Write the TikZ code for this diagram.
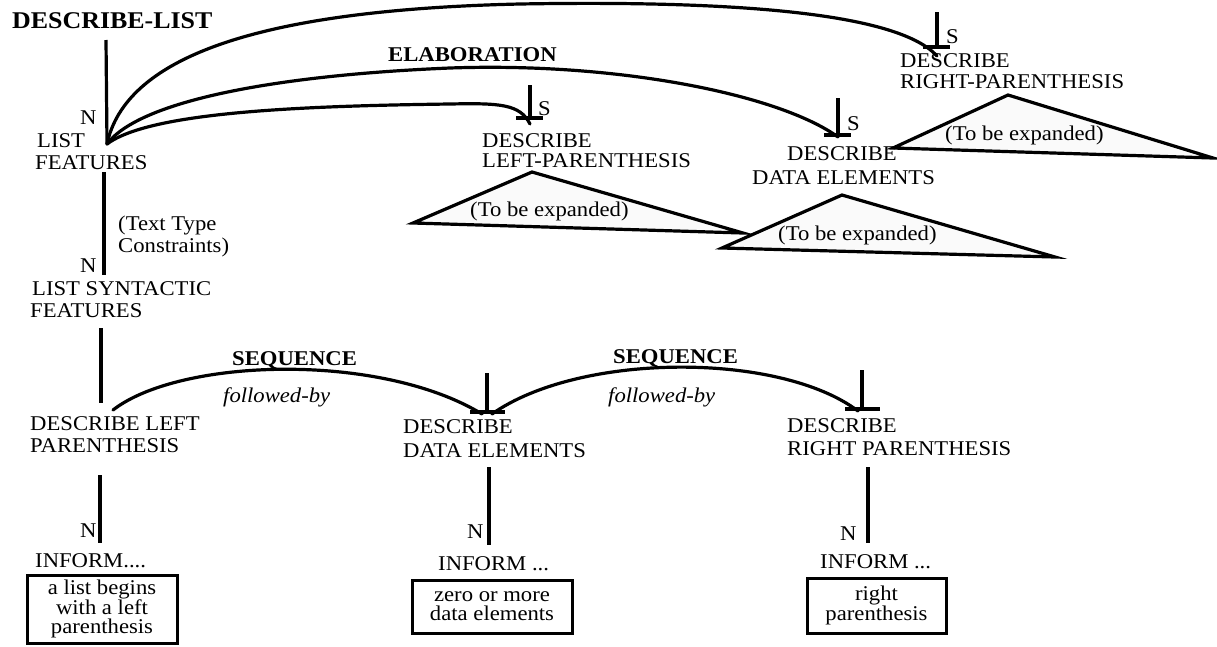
\documentclass[tikz,border=0pt]{standalone}
\usepackage{fontspec}
\setmainfont{Liberation Serif}[FakeStretch=1.08]
\begin{document}
\begin{tikzpicture}[x=1pt,y=-1pt,
  lbl/.style={inner sep=0pt, anchor=base west, font=\fontsize{21}{24}\selectfont},
  boldlbl/.style={lbl, font=\fontsize{21}{24}\selectfont\bfseries},
  itlbl/.style={lbl, font=\fontsize{21}{24}\selectfont\itshape},
  rel/.style={line width=3.2pt},
  link/.style={line width=3.2pt, line cap=round},
  tri/.style={line width=3.2pt, line join=miter, fill=black!2},
  infobox/.style={draw, line width=3pt, align=center, inner sep=0pt,
    font=\fontsize{21}{19}\selectfont}]
\useasboundingbox (0,0) rectangle (1217,646);

% ---------- root and the nucleus LIST FEATURES ----------
\node[boldlbl, font=\fontsize{24}{26}\selectfont\bfseries] (title) at (12,28) {DESCRIBE-LIST};
\coordinate (rootfoot) at (106,40);
\coordinate (jn) at (107,144);
\draw[rel] (rootfoot) -- (jn);
\node[lbl] (nA) at (80,124) {N};
\node[lbl] (lf) at (37,147) {LIST};
\node[lbl] (lfB) at (35,169) {FEATURES};

% ---------- satellite marks (vertical stem, bar, S) ----------
\coordinate (sLtop) at (530,85);  \coordinate (sL) at (530,118);
\coordinate (sDtop) at (838,98);  \coordinate (sD) at (838,135);
\coordinate (sRtop) at (937,12);  \coordinate (sR) at (937,47);
\foreach \m in {sL,sD,sR}{
  \draw[rel] (\m top) -- (\m);
  \draw[rel] ([xshift=-14pt]\m) -- ([xshift=13pt]\m);
}
\node[lbl] (sLlab) at (538,115) {S};
\node[lbl] (sDlab) at (847,130) {S};
\node[lbl] (sRlab) at (946,43) {S};

% elaboration arcs out of LIST FEATURES
\draw[link] (jn) .. controls (125,60) and (250,10) .. (520,4)
                 .. controls (750,0) and (900,15) .. ([yshift=-9pt]sR);
\draw[link] (jn) .. controls (140,100) and (280,75) .. (450,68)
                 .. controls (620,62) and (780,95) .. ([yshift=-2pt]sD);
\draw[link] (jn) .. controls (150,112) and (300,106) .. (450,104)
                 .. controls (500,103) and (520,104) .. ([yshift=-6pt]sL);
\node[boldlbl] (elab) at (388,61) {ELABORATION};

% satellites with their unexpanded subtrees
\node[lbl] (dlp) at (482,147) {DESCRIBE};
\node[lbl] (dlpB) at (482,167) {LEFT-PARENTHESIS};
\node[lbl] (dde) at (787,160) {DESCRIBE};
\node[lbl] (ddeB) at (752,184) {DATA ELEMENTS};
\node[lbl] (drp) at (900,67) {DESCRIBE};
\node[lbl] (drpB) at (900,88) {RIGHT-PARENTHESIS};

\draw[tri] (532,172) -- (413,223) -- (743,233) -- cycle;
\draw[tri] (842,195) -- (722,248) -- (1055,257) -- cycle;
\draw[tri] (1008,95) -- (893,148) -- (1213,158) -- cycle;
\node[lbl] (expL) at (470,216) {(To be expanded)};
\node[lbl] (expD) at (778,240) {(To be expanded)};
\node[lbl] (expR) at (945,140) {(To be expanded)};

% ---------- LIST SYNTACTIC FEATURES ----------
\coordinate (lfdown) at (104,172);
\coordinate (lsfup) at (104,275);
\draw[rel] (lfdown) -- (lsfup);
\node[lbl] (nB) at (80,272) {N};
\node[lbl] (ttc) at (118,230) {(Text Type};
\node[lbl] (ttcB) at (118,252) {Constraints)};
\node[lbl] (lsf) at (32,295) {LIST SYNTACTIC};
\node[lbl] (lsfB) at (30,317) {FEATURES};

\coordinate (lsfdown) at (101,328);
\coordinate (dlfup) at (101,403);
\draw[rel] (lsfdown) -- (dlfup);

% ---------- the three steps of the sequence ----------
\node[lbl] (s1) at (30,430) {DESCRIBE LEFT};
\node[lbl] (s1B) at (30,452) {PARENTHESIS};
\node[lbl] (s2) at (403,433) {DESCRIBE};
\node[lbl] (s2B) at (403,457) {DATA ELEMENTS};
\node[lbl] (s3) at (787,432) {DESCRIBE};
\node[lbl] (s3B) at (787,455) {RIGHT PARENTHESIS};

\coordinate (q1) at (113,410);
\coordinate (q2top) at (487,373); \coordinate (q2) at (487,412);
\coordinate (q3top) at (862,370); \coordinate (q3) at (862,409);
\foreach \m in {q2,q3}{
  \draw[rel] (\m top) -- (\m);
  \draw[rel] ([xshift=-17pt]\m) -- ([xshift=18pt]\m);
}
\draw[link] (q1) .. controls (180,358) and (380,352) .. ([xshift=-5pt,yshift=-2pt]q2);
\draw[link] ([xshift=5pt,yshift=-2pt]q2) .. controls (580,352) and (780,352) .. ([xshift=-4pt,yshift=-2pt]q3);
\node[boldlbl] (seq1) at (232,365) {SEQUENCE};
\node[itlbl] (fb1) at (223,402) {followed-by};
\node[boldlbl] (seq2) at (613,363) {SEQUENCE};
\node[itlbl] (fb2) at (608,402) {followed-by};

% ---------- INFORM leaves ----------
\coordinate (i1up) at (100,475); \coordinate (i1) at (100,543);
\coordinate (i2up) at (489,467); \coordinate (i2) at (489,545);
\coordinate (i3up) at (868,467); \coordinate (i3) at (868,543);
\draw[rel] (i1up) -- (i1);
\draw[rel] (i2up) -- (i2);
\draw[rel] (i3up) -- (i3);
\node[lbl] (nC) at (80,537) {N};
\node[lbl] (nD) at (467,538) {N};
\node[lbl] (nE) at (840,540) {N};
\node[lbl] (inf1) at (35,567) {INFORM....};
\node[lbl] (inf2) at (438,570) {INFORM ...};
\node[lbl] (inf3) at (820,568) {INFORM ...};

\node[infobox, minimum width=150pt, minimum height=68pt] (box1) at (102,609)
  {a list begins\\with a left\\parenthesis};
\node[infobox, minimum width=160pt, minimum height=53pt] (box2) at (492,606.5)
  {zero or more\\data elements};
\node[infobox, minimum width=139pt, minimum height=55pt] (box3) at (876.5,605.5)
  {right\\parenthesis};
\end{tikzpicture}
\end{document}
